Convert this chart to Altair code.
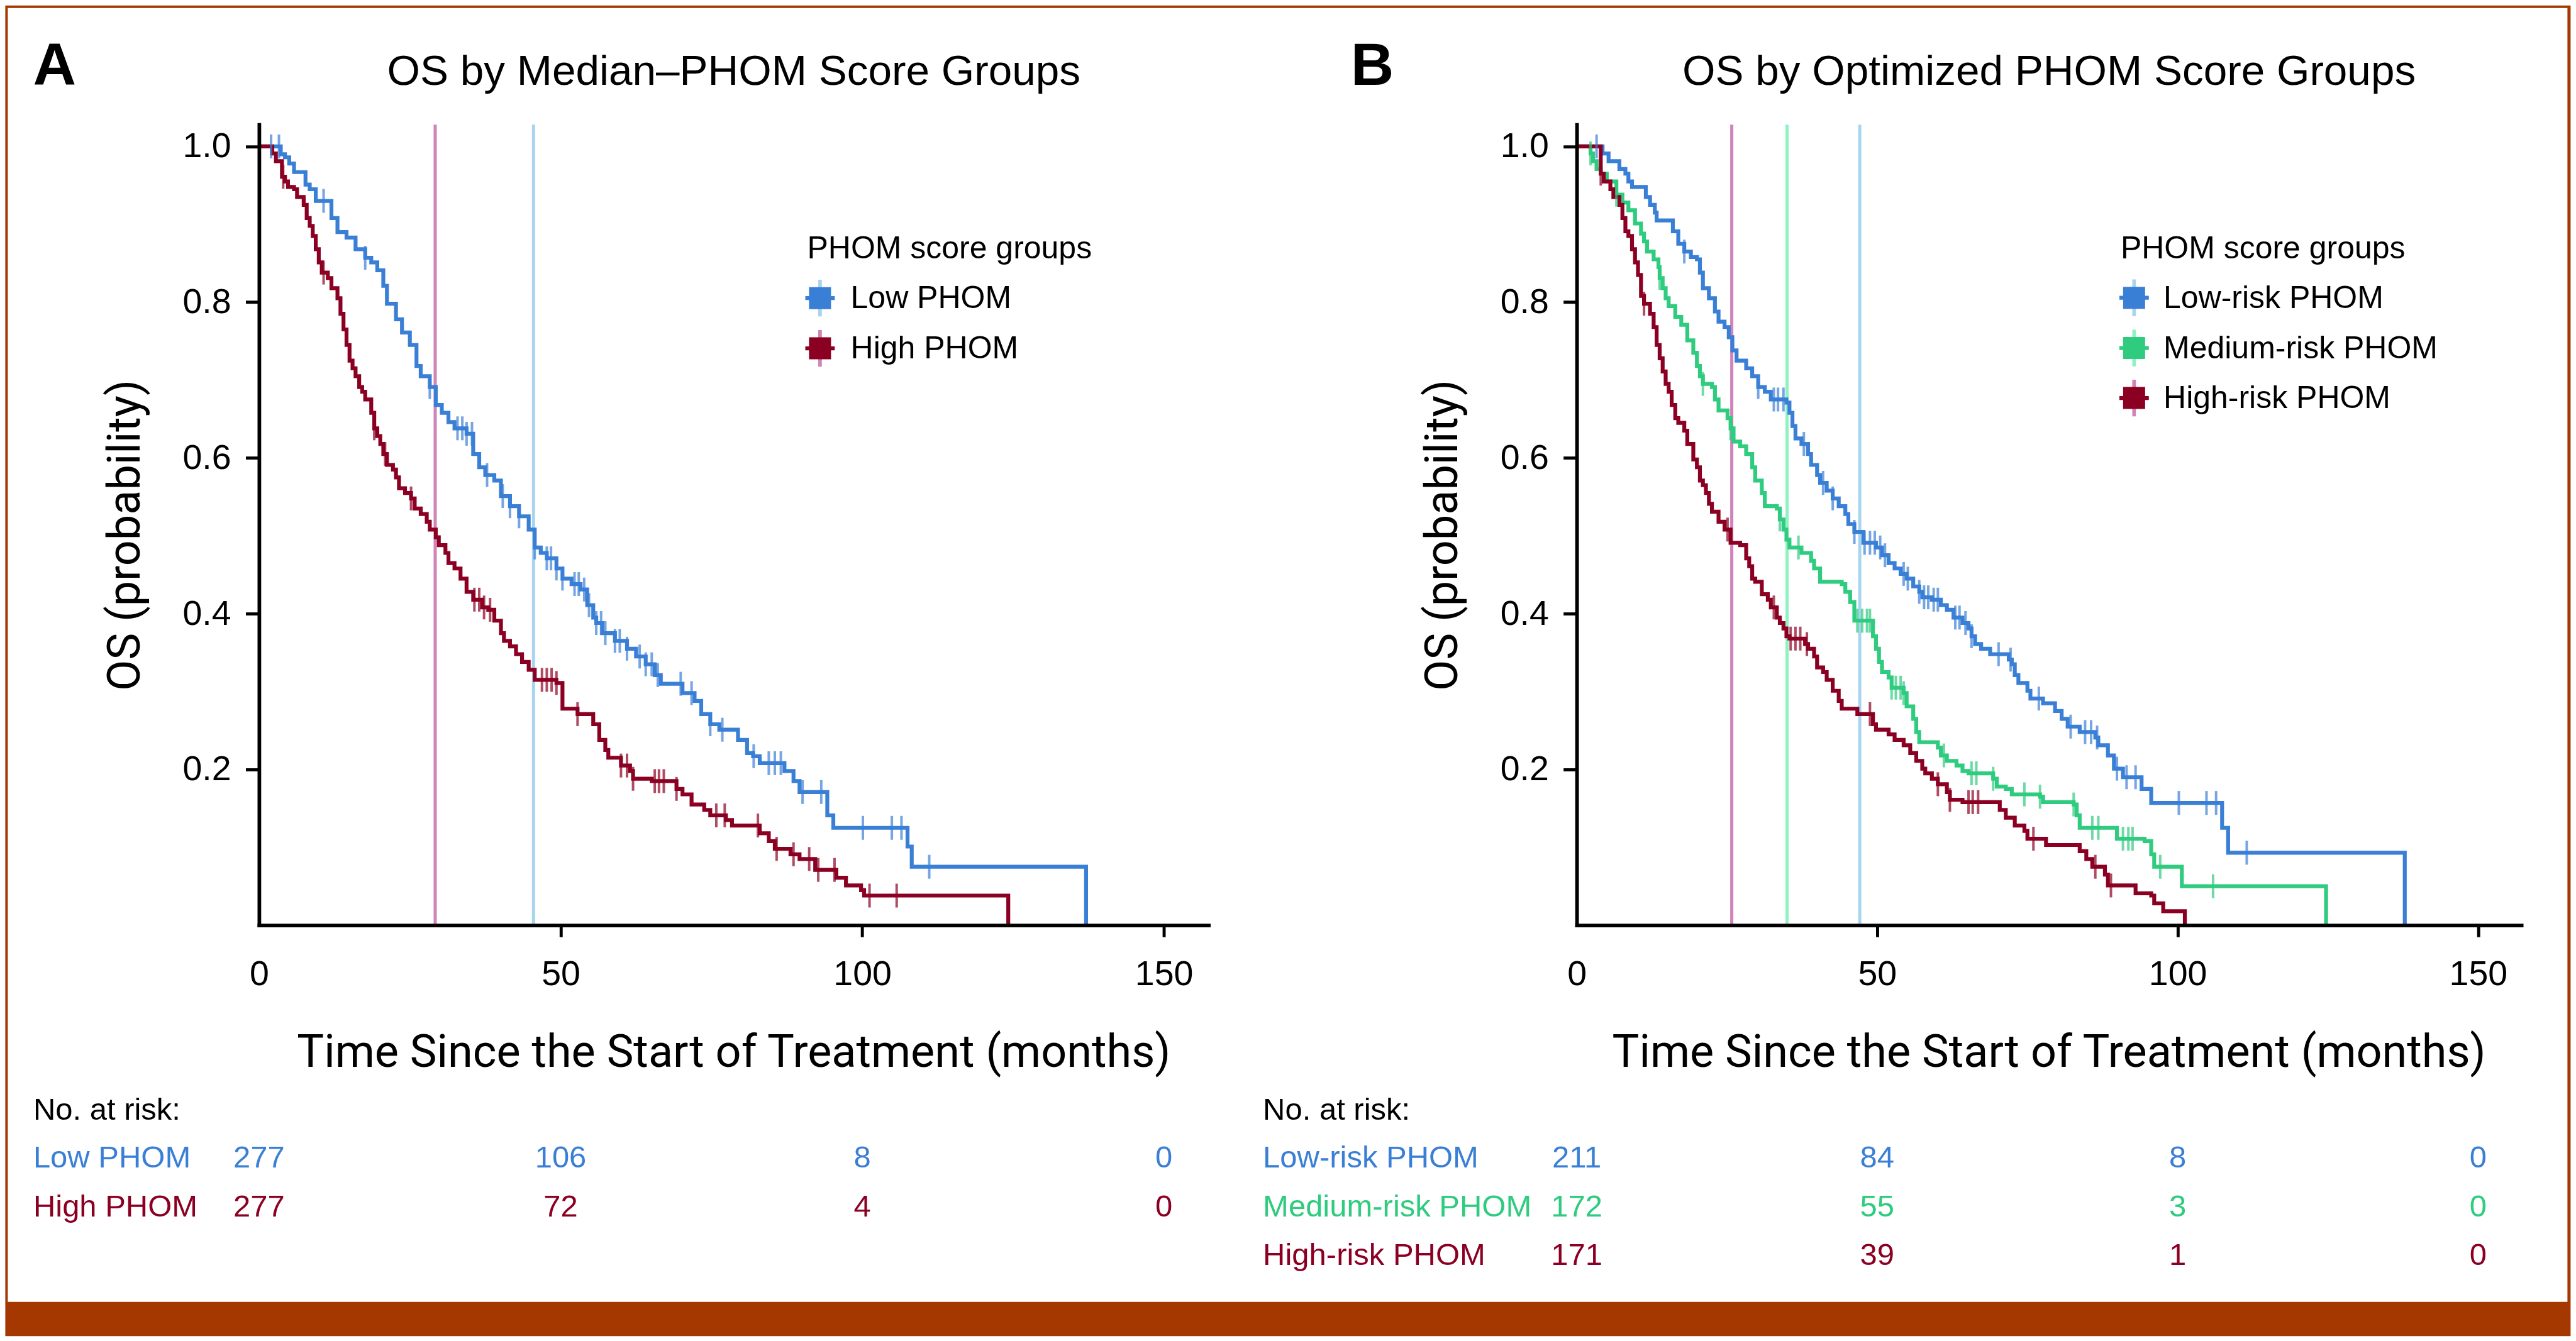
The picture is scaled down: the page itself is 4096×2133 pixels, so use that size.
import altair as alt
import pandas as pd

# ---------------- data ----------------
# Panel A: (time in months, survival probability) step points
A_low = [(0, 1.0), (3.6, 0.990), (4.3, 0.986), (5.0, 0.978), (5.8, 0.967), (7.7, 0.951), (8.4, 0.945),
         (9.4, 0.930), (12.0, 0.908), (13.0, 0.890), (14.5, 0.883), (16.0, 0.868), (17.6, 0.857),
         (18.6, 0.851), (19.6, 0.841), (20.6, 0.821), (21.2, 0.798), (22.7, 0.778), (23.7, 0.761),
         (25.0, 0.745), (26.1, 0.718), (26.8, 0.705), (28.3, 0.691), (29.3, 0.668), (30.3, 0.658),
         (31.4, 0.646), (32.4, 0.638), (34.4, 0.631), (35.5, 0.605), (36.5, 0.588), (37.5, 0.578),
         (39.0, 0.571), (40.1, 0.551), (41.6, 0.538), (43.1, 0.525), (44.7, 0.508), (45.7, 0.485),
         (46.7, 0.478), (47.7, 0.471), (49.3, 0.458), (50.3, 0.445), (51.8, 0.438), (53.3, 0.431),
         (54.4, 0.411), (55.4, 0.395), (55.9, 0.388), (56.9, 0.375), (59.0, 0.365), (61.0, 0.355),
         (62.5, 0.345), (64.1, 0.335), (65.6, 0.321), (66.6, 0.310), (70.2, 0.298), (72.2, 0.288),
         (73.3, 0.271), (74.8, 0.258), (76.3, 0.251), (79.4, 0.238), (80.9, 0.221), (81.9, 0.217),
         (83.0, 0.208), (87.1, 0.198), (88.6, 0.185), (89.6, 0.171), (94.2, 0.141), (95.2, 0.125),
         (107.5, 0.101), (108.2, 0.075), (137.1, 0.0)]
A_low_censor = [2.0, 3.3, 10.7, 17.6, 28.3, 32.9, 33.7, 34.4, 35.3, 37.8, 40.4, 41.6, 43.1, 45.7, 47.7,
                48.4, 49.3, 50.3, 52.3, 53.0, 53.9, 54.7, 55.9, 56.7, 57.4, 59.0, 59.8, 61.0, 63.1, 64.1,
                65.1, 66.1, 69.9, 71.7, 74.8, 76.8, 82.0, 84.5, 85.5, 86.5, 90.1, 93.2, 100.1, 104.9,
                106.5, 111.1]
A_high = [(0, 1.0), (2.2, 0.991), (2.8, 0.981), (3.8, 0.961), (4.3, 0.955), (4.8, 0.948), (5.8, 0.945),
          (6.3, 0.935), (7.4, 0.925), (7.9, 0.908), (8.4, 0.898), (8.9, 0.885), (9.4, 0.868),
          (9.9, 0.851), (10.4, 0.838), (11.4, 0.831), (12.0, 0.818), (13.0, 0.805), (13.5, 0.785),
          (14.0, 0.765), (14.5, 0.745), (15.0, 0.725), (15.5, 0.715), (16.0, 0.705), (16.6, 0.691),
          (17.1, 0.685), (17.6, 0.675), (18.6, 0.658), (19.1, 0.638), (19.6, 0.628), (20.1, 0.618),
          (20.6, 0.605), (21.2, 0.591), (22.2, 0.585), (22.7, 0.575), (23.2, 0.561), (24.2, 0.555),
          (25.2, 0.548), (25.8, 0.535), (26.8, 0.528), (27.8, 0.518), (28.3, 0.508), (29.3, 0.498),
          (29.8, 0.488), (30.9, 0.478), (31.4, 0.465), (32.4, 0.458), (33.4, 0.445), (34.4, 0.428),
          (35.5, 0.418), (37.0, 0.408), (38.0, 0.405), (39.0, 0.391), (40.1, 0.375), (40.6, 0.365),
          (41.6, 0.358), (42.6, 0.348), (43.6, 0.338), (44.7, 0.328), (45.7, 0.315), (49.3, 0.311),
          (50.3, 0.278), (52.8, 0.271), (55.4, 0.258), (56.4, 0.238), (57.4, 0.225), (57.9, 0.215),
          (60.0, 0.205), (61.5, 0.198), (62.0, 0.188), (65.1, 0.185), (69.2, 0.175), (70.2, 0.168),
          (71.7, 0.155), (73.8, 0.148), (74.8, 0.141), (77.4, 0.135), (78.4, 0.128), (83.0, 0.118),
          (84.5, 0.108), (85.5, 0.098), (88.1, 0.091), (89.6, 0.085), (92.2, 0.071), (95.7, 0.061),
          (97.3, 0.051), (99.8, 0.045), (100.3, 0.038), (124.2, 0.0)]
A_high_censor = [4.0, 10.7, 19.1, 20.9, 25.2, 35.7, 36.5, 37.3, 38.3, 46.9, 47.7, 48.5, 49.3, 52.8, 60.0,
                 61.0, 62.0, 65.6, 66.3, 67.1, 69.2, 75.8, 77.2, 82.7, 85.8, 88.6, 91.2, 92.7, 95.4,
                 101.2, 105.7]
A_groups = ["Low PHOM", "High PHOM"]
A_medians = [45.5, 29.2]
A_atrisk_times = [0, 50, 100, 150]
A_atrisk = {"Low PHOM": [277, 106, 8, 0], "High PHOM": [277, 72, 4, 0]}

# Panel B
B_low = [(0, 1.0), (4.3, 0.991), (5.3, 0.981), (7.1, 0.971), (8.1, 0.965), (8.6, 0.955), (9.2, 0.948),
         (11.5, 0.935), (12.2, 0.925), (13.0, 0.915), (13.3, 0.905), (16.0, 0.891), (16.9, 0.875),
         (17.9, 0.865), (19.0, 0.858), (20.0, 0.855), (20.5, 0.838), (21.0, 0.818), (22.0, 0.805),
         (23.0, 0.788), (23.6, 0.775), (24.6, 0.768), (25.3, 0.755), (25.9, 0.738), (26.6, 0.725),
         (28.2, 0.715), (29.2, 0.705), (30.2, 0.691), (31.3, 0.685), (32.3, 0.675), (34.9, 0.671),
         (35.4, 0.658), (35.9, 0.641), (36.4, 0.625), (37.4, 0.618), (38.5, 0.605), (39.0, 0.591),
         (40.0, 0.578), (40.5, 0.568), (41.6, 0.558), (42.6, 0.548), (43.6, 0.538), (44.7, 0.528),
         (45.2, 0.515), (46.2, 0.505), (47.7, 0.491), (49.8, 0.485), (50.8, 0.475), (51.9, 0.465),
         (52.9, 0.458), (53.9, 0.451), (54.9, 0.445), (56.0, 0.435), (57.0, 0.428), (57.5, 0.421),
         (59.1, 0.418), (60.6, 0.411), (61.6, 0.405), (62.7, 0.395), (64.2, 0.388), (65.2, 0.381),
         (65.7, 0.371), (66.3, 0.361), (67.3, 0.355), (68.8, 0.348), (71.9, 0.341), (72.4, 0.335),
         (72.9, 0.321), (73.5, 0.311), (75.0, 0.301), (75.5, 0.291), (77.6, 0.285), (79.6, 0.275),
         (80.7, 0.265), (81.7, 0.255), (83.7, 0.248), (86.3, 0.241), (86.8, 0.231), (88.4, 0.218),
         (89.4, 0.201), (90.9, 0.190), (94.0, 0.175), (95.6, 0.157), (107.4, 0.125), (108.4, 0.093),
         (137.8, 0.0)]
B_low_censor = [3.3, 17.9, 30.2, 32.8, 33.5, 34.4, 37.8, 41.0, 42.6, 46.2, 47.9, 48.8, 49.6, 50.5, 51.3,
                54.4, 55.1, 57.0, 57.8, 58.5, 59.4, 60.1, 63.0, 63.7, 64.7, 65.7, 70.2, 72.2, 76.9, 82.2,
                84.6, 85.6, 86.6, 89.9, 91.5, 93.0, 100.2, 104.8, 106.4, 111.5]
B_med = [(0, 1.0), (2.3, 0.991), (2.7, 0.981), (3.3, 0.971), (4.0, 0.965), (5.0, 0.955), (6.6, 0.938),
         (7.6, 0.928), (8.6, 0.918), (9.7, 0.901), (10.7, 0.888), (11.2, 0.878), (11.7, 0.865),
         (12.8, 0.855), (13.6, 0.845), (13.8, 0.831), (14.3, 0.818), (14.8, 0.805), (15.3, 0.795),
         (16.4, 0.781), (17.4, 0.771), (18.4, 0.751), (19.4, 0.735), (20.0, 0.718), (20.5, 0.705),
         (21.0, 0.695), (22.5, 0.691), (23.0, 0.675), (23.6, 0.661), (25.1, 0.651), (25.6, 0.638),
         (26.1, 0.621), (27.2, 0.615), (28.2, 0.605), (29.2, 0.588), (29.7, 0.571), (30.8, 0.555),
         (31.3, 0.538), (33.3, 0.535), (33.8, 0.521), (34.4, 0.508), (34.9, 0.495), (35.4, 0.485),
         (37.4, 0.478), (39.0, 0.468), (39.5, 0.458), (40.5, 0.441), (44.1, 0.438), (44.7, 0.428),
         (45.5, 0.415), (46.2, 0.391), (49.3, 0.371), (49.8, 0.355), (50.3, 0.338), (50.8, 0.325),
         (51.9, 0.318), (52.4, 0.305), (54.4, 0.298), (54.9, 0.281), (56.0, 0.265), (56.5, 0.248),
         (57.0, 0.235), (60.1, 0.228), (60.6, 0.218), (61.6, 0.211), (63.2, 0.205), (64.2, 0.198),
         (65.2, 0.195), (69.3, 0.188), (69.9, 0.178), (71.4, 0.175), (72.4, 0.168), (77.1, 0.165),
         (77.6, 0.158), (82.7, 0.155), (83.2, 0.141), (83.7, 0.125), (89.9, 0.111), (94.5, 0.108),
         (95.6, 0.091), (96.1, 0.075), (100.7, 0.050), (124.7, 0.0)]
B_med_censor = [2.3, 6.6, 13.8, 21.0, 25.6, 33.8, 36.9, 46.7, 47.5, 48.3, 48.8, 52.4, 53.1, 53.9, 54.4,
                61.1, 65.7, 66.5, 69.3, 74.5, 77.1, 82.7, 85.8, 86.8, 90.9, 91.8, 92.5, 97.1, 105.9]
B_high = [(0, 1.0), (4.0, 0.965), (4.5, 0.955), (5.6, 0.945), (6.1, 0.935), (7.1, 0.925), (7.6, 0.908),
          (8.1, 0.891), (8.6, 0.885), (9.2, 0.868), (9.7, 0.851), (10.2, 0.835), (10.7, 0.808),
          (11.2, 0.798), (12.2, 0.785), (12.8, 0.768), (13.3, 0.745), (13.8, 0.728), (14.3, 0.711),
          (14.8, 0.695), (15.3, 0.685), (15.8, 0.668), (16.4, 0.651), (16.9, 0.645), (17.9, 0.635),
          (18.4, 0.618), (19.4, 0.598), (20.0, 0.588), (20.5, 0.571), (21.0, 0.565), (21.5, 0.555),
          (22.0, 0.541), (22.5, 0.531), (23.6, 0.518), (24.6, 0.508), (25.6, 0.491), (27.2, 0.488),
          (28.2, 0.471), (28.7, 0.461), (29.2, 0.445), (29.7, 0.441), (30.8, 0.425), (31.8, 0.418),
          (32.3, 0.408), (33.3, 0.395), (33.8, 0.388), (34.4, 0.381), (34.9, 0.371), (35.4, 0.368),
          (38.0, 0.361), (38.5, 0.355), (39.5, 0.345), (40.0, 0.331), (41.0, 0.325), (41.6, 0.315),
          (42.6, 0.301), (43.6, 0.288), (44.1, 0.278), (46.7, 0.271), (49.3, 0.258), (49.8, 0.251),
          (51.9, 0.245), (52.9, 0.238), (54.4, 0.231), (55.5, 0.221), (56.5, 0.211), (57.5, 0.201),
          (58.0, 0.195), (59.1, 0.188), (60.1, 0.181), (61.6, 0.171), (62.1, 0.161), (64.2, 0.158),
          (70.4, 0.148), (71.4, 0.138), (72.9, 0.128), (74.5, 0.121), (75.0, 0.111), (78.1, 0.103),
          (83.7, 0.095), (84.8, 0.085), (85.8, 0.075), (87.9, 0.065), (88.4, 0.051), (93.0, 0.041),
          (95.6, 0.038), (96.1, 0.028), (97.6, 0.018), (101.2, 0.0)]
B_high_censor = [4.0, 11.2, 25.1, 32.8, 35.6, 36.4, 37.2, 38.3, 48.8, 60.1, 62.1, 65.2, 65.9, 66.8,
                 76.0, 86.3, 88.9]
B_groups = ["Low-risk PHOM", "Medium-risk PHOM", "High-risk PHOM"]
B_medians = [47.1, 35.0, 25.8]
B_atrisk_times = [0, 50, 100, 150]
B_atrisk = {"Low-risk PHOM": [211, 84, 8, 0], "Medium-risk PHOM": [172, 55, 3, 0],
            "High-risk PHOM": [171, 39, 1, 0]}

# ---------------- styles ----------------
FONT = "Liberation Sans"
TITLEFONT = "Roboto"
BLUE, GREEN, RED = "#3A7FD6", "#2FCB7F", "#8B0022"
LBLUE, LGREEN, PINK = "#A8D5EE", "#8EF2C2", "#D084B8"
ORANGE = "#A53800"
H = 1273.7
YMAX = 1.028
one = pd.DataFrame({"k": [0]})


def step_level(pairs, t):
    return [s for tv, s in pairs if tv <= t][-1]


def panel(letter, title, width, xmax, groups, dark, light, curves, censors, medians,
          at_times, at_risk, leg_title_x, leg_cx, leg_lx, leg_rows, risk_x, frame=False):
    xs = alt.Scale(domain=[0, xmax], nice=False, zero=False)
    ys = alt.Scale(domain=[0, YMAX], nice=False, zero=False)
    xaxis = alt.Axis(values=[0, 50, 100, 150], title=None, grid=False, labelFont=FONT,
                     labelFontSize=55.5, labelColor="black", labelPadding=76.8,
                     labelBaseline="alphabetic", tickSize=18.5, tickWidth=4.9, tickColor="black",
                     tickOpacity={"condition": {"test": "datum.value === 0", "value": 0}, "value": 1},
                     domainColor="black", domainWidth=5.8, domainCap="square", labelFlush=False,
                     labelOverlap=False, zindex=1)
    yaxis = alt.Axis(values=[0.2, 0.4, 0.6, 0.8, 1.0], format=".1f", title=None, grid=False,
                     labelFont=FONT, labelFontSize=55.5, labelColor="black", labelPadding=23.4,
                     tickSize=21.4, tickWidth=4.9, tickColor="black", domainColor="black",
                     domainWidth=5.8, domainCap="square", labelOverlap=False, zindex=1)

    curve_rows, cens_rows, med_rows = [], [], []
    for g, col, lcol, pairs, cens, med in zip(groups, dark, light, curves, censors, medians):
        for i, (t, s) in enumerate(pairs):
            curve_rows.append({"group": g, "t": t, "s": s, "i": i, "col": col})
        for c in cens:
            cens_rows.append({"group": g, "t": c, "s": step_level(pairs, c), "col": col})
        med_rows.append({"group": g, "t": med, "col": lcol})
    curve_df = pd.DataFrame(curve_rows)
    cens_df = pd.DataFrame(cens_rows)
    med_df = pd.DataFrame(med_rows)

    layers = []
    if frame:
        layers.append(alt.Chart(one).mark_rect(color=ORANGE).encode(
            x=alt.value(-403.6), x2=alt.value(3676.4), y=alt.value(-189.5), y2=alt.value(1927.5)))
        layers.append(alt.Chart(one).mark_rect(color="white").encode(
            x=alt.value(-399.6), x2=alt.value(3671.4), y=alt.value(-185.5), y2=alt.value(1873.0)))

    layers.append(alt.Chart(med_df).mark_rule(strokeWidth=5).encode(
        x=alt.X("t:Q", scale=xs, axis=xaxis),
        color=alt.Color("col:N", scale=None)))
    layers.append(alt.Chart(curve_df).mark_line(interpolate="step-after", strokeWidth=6.2).encode(
        x=alt.X("t:Q", scale=xs, axis=xaxis),
        y=alt.Y("s:Q", scale=ys, axis=yaxis),
        color=alt.Color("col:N", scale=None),
        detail="group:N", order="i:Q"))
    layers.append(alt.Chart(cens_df).mark_tick(orient="vertical", size=38, thickness=4).encode(
        x=alt.X("t:Q", scale=xs, axis=xaxis),
        y=alt.Y("s:Q", scale=ys, axis=yaxis),
        color=alt.Color("col:N", scale=None)))

    # legend
    layers.append(alt.Chart(one).mark_text(font=FONT, fontSize=50, align="left",
                                           baseline="alphabetic", color="black").encode(
        x=alt.value(leg_title_x), y=alt.value(213), text=alt.value("PHOM score groups")))
    for g, col, lcol, cy in zip(groups, dark, light, leg_rows):
        layers.append(alt.Chart(one).mark_rule(color=lcol, strokeWidth=5.8).encode(
            x=alt.value(leg_cx), y=alt.value(cy - 29.2), y2=alt.value(cy + 29.2)))
        layers.append(alt.Chart(one).mark_rule(color=col, strokeWidth=6.3).encode(
            x=alt.value(leg_cx - 23.4), x2=alt.value(leg_cx + 23.4), y=alt.value(cy)))
        layers.append(alt.Chart(one).mark_rect(color=col).encode(
            x=alt.value(leg_cx - 17.5), x2=alt.value(leg_cx + 17.5),
            y=alt.value(cy - 17.5), y2=alt.value(cy + 17.5)))
        layers.append(alt.Chart(one).mark_text(font=FONT, fontSize=50, align="left",
                                               baseline="alphabetic", color="black").encode(
            x=alt.value(leg_lx), y=alt.value(cy + 16), text=alt.value(g)))

    # titles
    layers.append(alt.Chart(one).mark_text(font=FONT, fontSize=95, fontWeight="bold", align="left",
                                           baseline="alphabetic", color="black").encode(
        x=alt.value(-359.5), y=alt.value(-63.5), text=alt.value(letter)))
    layers.append(alt.Chart(one).mark_text(font=FONT, fontSize=67.5, align="center",
                                           baseline="alphabetic", color="black").encode(
        x=alt.value(width / 2), y=alt.value(-63.5), text=alt.value(title)))
    layers.append(alt.Chart(one).mark_text(font=TITLEFONT, fontSize=72, align="center", angle=270,
                                           baseline="alphabetic", color="black").encode(
        x=alt.value(-189.8), y=alt.value(653.5), text=alt.value("OS (probability)")))
    layers.append(alt.Chart(one).mark_text(font=TITLEFONT, fontSize=72, align="center",
                                           baseline="alphabetic", color="black").encode(
        x=alt.value(width / 2), y=alt.value(1498.7),
        text=alt.value("Time Since the Start of Treatment (months)")))

    # number at risk table
    row_y = [1659.5, 1736.8, 1814.7]
    layers.append(alt.Chart(one).mark_text(font=FONT, fontSize=49, align="left",
                                           baseline="alphabetic", color="black").encode(
        x=alt.value(risk_x), y=alt.value(1583.1), text=alt.value("No. at risk:")))
    for g, col, ry in zip(groups, dark, row_y):
        layers.append(alt.Chart(one).mark_text(font=FONT, fontSize=49, align="left",
                                               baseline="alphabetic", color=col).encode(
            x=alt.value(risk_x), y=alt.value(ry), text=alt.value(g)))
        rdf = pd.DataFrame({"t": at_times, "n": [str(v) for v in at_risk[g]]})
        layers.append(alt.Chart(rdf).mark_text(font=FONT, fontSize=49, align="center",
                                               baseline="alphabetic", color=col).encode(
            x=alt.X("t:Q", scale=xs, axis=xaxis), y=alt.value(ry), text="n:N"))

    return alt.layer(*layers).properties(width=width, height=H)


pA = panel("A", "OS by Median\u2013PHOM Score Groups", 1510.1, 157.4, A_groups,
           [BLUE, RED], [LBLUE, PINK], [A_low, A_high], [A_low_censor, A_high_censor], A_medians,
           A_atrisk_times, A_atrisk, 871.8, 892.2, 940.9, [276.0, 356.0], -359.1, frame=True)
pB = panel("B", "OS by Optimized PHOM Score Groups", 1502.4, 157.2, B_groups,
           [BLUE, GREEN, RED], [LBLUE, LGREEN, PINK], [B_low, B_med, B_high],
           [B_low_censor, B_med_censor, B_high_censor], B_medians,
           B_atrisk_times, B_atrisk, 865.0, 886.5, 933.2, [275.5, 355.5, 435.0], -499.1)

chart = alt.hconcat(pA, pB, spacing=584.7, bounds="flush").properties(padding=0).configure_view(
    stroke=None)

chart.save("out.html", embed_options={"renderer": "svg", "actions": False})
